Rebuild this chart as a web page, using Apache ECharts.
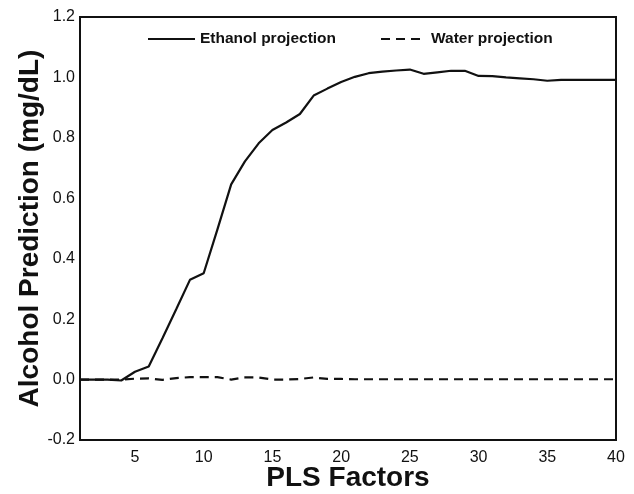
<!DOCTYPE html>
<html lang="en">
<head>
    <meta charset="UTF-8">
    <title>Alcohol Prediction</title>
    <script type="text/javascript" src="https://cdn.jsdelivr.net/npm/echarts@6/dist/echarts.min.js"></script>
</head>
<body style="margin:0">
<div id="main" style="width: 634px;height: 494px"></div>
</body>
<script>
    // PLS factor number on x
    var factors = []
    for (var i = 1; i <= 40; i++) factors.push(i)

    var ethanol = [0, 0, 0, -0.003, 0.026, 0.043, 0.137, 0.233, 0.33, 0.352,
        0.497, 0.646, 0.722, 0.782, 0.826, 0.851, 0.879, 0.94, 0.963, 0.985,
        1.002, 1.014, 1.019, 1.023, 1.026, 1.012, 1.017, 1.022, 1.022, 1.005,
        1.004, 1.0, 0.997, 0.994, 0.989, 0.992, 0.992, 0.992, 0.992, 0.992]
    var water = [0, 0, 0, 0, 0.003, 0.004, -0.001, 0.005, 0.008, 0.008,
        0.008, 0, 0.007, 0.007, 0, 0, 0.002, 0.007, 0.002, 0.002,
        0.001, 0.001, 0.001, 0.001, 0.001, 0.001, 0.001, 0.001, 0.001, 0.001,
        0.001, 0.001, 0.001, 0.001, 0.001, 0.001, 0.001, 0.001, 0.001, 0.001]

    var xTicks = [5, 10, 15, 20, 25, 30, 35, 40]

    function pairs(ys) {
        var out = []
        for (var i = 0; i < factors.length; i++) out.push([factors[i], ys[i]])
        return out
    }

    var font = "Liberation Sans, Arial, sans-serif"
    var ink = "#111"
    var legendText = {fontFamily: font, fontWeight: "bold", fontSize: 15.5, color: ink}

    var myChart = echarts.init(document.getElementById("main"))
    myChart.setOption({
        animation: false,
        backgroundColor: "#fff",
        grid: {
            left: 80, right: 18, top: 17, bottom: 54,
            outerBoundsMode: "none",
            show: true, borderColor: ink, borderWidth: 2
        },
        legend: [{
            left: 147, top: 31, padding: 0,
            itemWidth: 47, itemHeight: 14,
            itemStyle: {opacity: 0},
            data: ["Ethanol projection"],
            textStyle: legendText
        }, {
            left: 380, top: 31, padding: 0,
            itemWidth: 45, itemHeight: 14,
            itemStyle: {opacity: 0},
            data: ["Water projection"],
            textStyle: legendText
        }],
        xAxis: {
            type: "value",
            min: 1, max: 40,
            name: "PLS Factors",
            nameLocation: "middle",
            nameGap: 24,
            nameMoveOverlap: false,
            nameTextStyle: {fontFamily: font, fontWeight: "bold", fontSize: 28, color: ink},
            axisLine: {onZero: false, lineStyle: {color: ink, width: 2}},
            axisTick: {show: false},
            splitLine: {show: false},
            axisLabel: {
                customValues: xTicks,
                margin: 10,
                fontFamily: font, fontSize: 16, color: ink
            }
        },
        yAxis: {
            type: "value",
            min: -0.2, max: 1.2, interval: 0.2,
            name: "Alcohol Prediction (mg/dL)",
            nameLocation: "middle",
            nameGap: 36,
            nameMoveOverlap: false,
            nameTextStyle: {fontFamily: font, fontWeight: "bold", fontSize: 28, color: ink},
            axisLine: {lineStyle: {color: ink, width: 2}},
            axisTick: {show: false},
            splitLine: {show: false},
            axisLabel: {
                margin: 5,
                fontFamily: font, fontSize: 16, color: ink,
                formatter: function (v) { return v.toFixed(1) }
            }
        },
        series: [{
            name: "Ethanol projection",
            type: "line",
            symbol: "none",
            data: pairs(ethanol),
            itemStyle: {color: ink},
            lineStyle: {color: ink, width: 2.2}
        }, {
            name: "Water projection",
            type: "line",
            symbol: "none",
            data: pairs(water),
            itemStyle: {color: ink},
            lineStyle: {color: ink, width: 2.2, type: [9, 6]}
        }]
    })
</script>
</html>
